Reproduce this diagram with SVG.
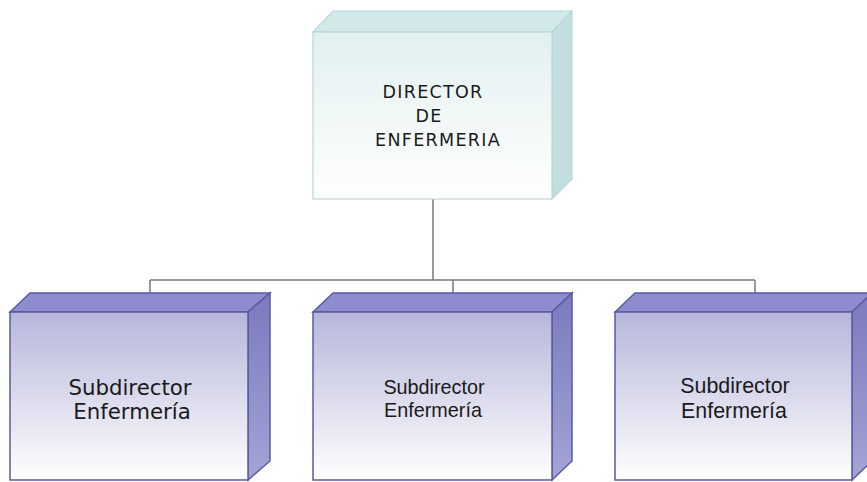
<svg xmlns="http://www.w3.org/2000/svg" width="867" height="482" viewBox="0 0 867 482">
<defs>
<linearGradient id="gTeal" x1="0" y1="0" x2="0" y2="1">
<stop offset="0" stop-color="#e2f0f0"/>
<stop offset="1" stop-color="#ffffff"/>
</linearGradient>
<linearGradient id="gPurp" x1="0" y1="0" x2="0" y2="1">
<stop offset="0" stop-color="#b6b6da"/>
<stop offset="1" stop-color="#ffffff"/>
</linearGradient>
<linearGradient id="gPurpSide" x1="0" y1="0" x2="0" y2="1">
<stop offset="0" stop-color="#7a7abd"/>
<stop offset="1" stop-color="#a4a4d6"/>
</linearGradient>
</defs>
<style>
.tTop{fill:#d3e9e9;stroke:#b8d8d8;stroke-width:1.2}
.tSide{fill:#c2dede;stroke:#b8d8d8;stroke-width:1.2}
.tFront{fill:url(#gTeal);stroke:#b8d8d8;stroke-width:1.2}
.pTop{fill:#8c8cce;stroke:#5a5aa6;stroke-width:1.5}
.pSide{fill:url(#gPurpSide);stroke:#5a5aa6;stroke-width:1.5}
.pFront{fill:url(#gPurp);stroke:#5a5aa6;stroke-width:1.5}
.conn{stroke:#7a7a7a;stroke-width:1.5;fill:none}
.txt{fill:#1a1a1a;text-anchor:middle}
.dv{font-family:"DejaVu Sans",Verdana,sans-serif}
.ls{font-family:"Liberation Sans",Arial,sans-serif}
</style>
<g id="connectors">
<path class="conn" d="M433 199 V280 M150 280 H755 M150 280 V293 M453 280 V293 M755 280 V293"/>
</g>
<g id="director">
<polygon class="tTop" points="313,32 333,11 572,11 552,32"/>
<polygon class="tSide" points="552,32 572,11 572,179 552,199"/>
<rect class="tFront" x="313" y="32" width="239" height="167"/>
<text class="txt dv" font-size="17.5" letter-spacing="1.3" x="433" y="98">DIRECTOR</text>
<text class="txt dv" font-size="17.5" letter-spacing="1.3" x="429" y="122">DE</text>
<text class="txt dv" font-size="17.5" letter-spacing="1.3" x="438" y="146">ENFERMERIA</text>
</g>
<g id="sub1">
<polygon class="pTop" points="10,312 30,293 270,293 248,312"/>
<polygon class="pSide" points="248,312 270,293 270,461 248,480"/>
<rect class="pFront" x="10" y="312" width="238" height="168"/>
<text class="txt dv" font-size="21.3" x="130" y="395">Subdirector</text>
<text class="txt dv" font-size="21.3" x="132" y="419">Enfermería</text>
</g>
<g id="sub2">
<polygon class="pTop" points="313,312 333,293 572,293 552,312"/>
<polygon class="pSide" points="552,312 572,293 572,461 552,480"/>
<rect class="pFront" x="313" y="312" width="239" height="168"/>
<text class="txt ls" font-size="19.8" x="434" y="394">Subdirector</text>
<text class="txt ls" font-size="19.8" x="433" y="417">Enfermería</text>
</g>
<g id="sub3">
<polygon class="pTop" points="615,312 635,293 872,293 852,312"/>
<polygon class="pSide" points="852,312 872,293 872,461 852,480"/>
<rect class="pFront" x="615" y="312" width="237" height="168"/>
<text class="txt ls" font-size="21.4" x="735" y="393">Subdirector</text>
<text class="txt ls" font-size="21.4" x="734" y="418">Enfermería</text>
</g>
</svg>
